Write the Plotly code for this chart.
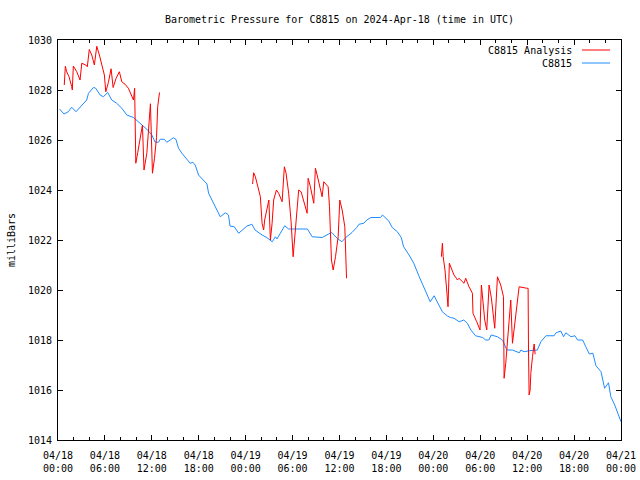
import pandas as pd
import plotly.graph_objects as go

# ---- data (hours since 2024-04-18 00:00 UTC, pressure in mbar) ----
obs_hours = [0.2, 0.77, 1.32, 1.75, 2.3, 3.03, 3.67, 3.9, 4.53, 4.83, 5.38, 5.8, 6.36, 6.87, 7.5, 8.16,
             8.8, 9.65, 10.3, 10.7, 11.36, 12.0, 12.43, 12.85, 13.07, 13.58, 13.92, 14.35, 14.77, 15.08,
             15.41, 15.85, 16.48, 16.9, 17.25, 17.55, 17.97, 18.6, 19.05, 19.26, 19.8, 20.33, 20.75, 21.4,
             21.8, 22.0, 22.55, 23.1, 23.5, 24.17, 24.8, 25.2, 26.1, 26.7, 27.4, 27.8, 28.0, 28.4, 29.0,
             29.5, 31.9, 32.5, 33.8, 34.6, 35.0, 35.7, 36.3, 36.8, 37.6, 38.2, 38.5, 39.1, 39.5, 40.0,
             41.25, 41.5, 41.9, 42.3, 42.75, 43.4, 43.9, 44.2, 44.9, 45.5, 46.2, 46.8, 47.2, 47.6, 48.1,
             48.5, 49.15, 49.8, 50.2, 50.65, 51.3, 51.9, 52.35, 52.8, 53.4, 54.3, 54.7, 55.1, 55.4, 56.2,
             56.85, 57.4, 58.1, 59.0, 59.2, 59.6, 60.25, 61.3, 61.75, 62.4, 63.45, 63.7, 64.3, 64.65,
             64.95, 65.6, 66.1, 66.45, 67.1, 67.5, 67.95, 68.4, 68.8, 69.45, 69.9, 70.4, 70.7, 71.2,
             71.5, 72.0]
obs_pressure = [1027.24, 1027.04, 1027.13, 1027.31, 1027.13, 1027.4, 1027.6, 1027.87, 1028.1, 1028.07,
                1027.8, 1027.73, 1027.9, 1027.6, 1027.47, 1027.27, 1027.0, 1026.9, 1026.73, 1026.6,
                1026.43, 1026.2, 1025.91, 1025.91, 1026.03, 1026.03, 1025.91, 1026.0, 1026.09, 1026.03,
                1025.67, 1025.47, 1025.2, 1025.07, 1025.11, 1025.0, 1024.6, 1024.4, 1024.24, 1023.87,
                1023.53, 1023.2, 1022.93, 1023.09, 1023.0, 1022.56, 1022.53, 1022.27, 1022.37, 1022.56,
                1022.63, 1022.4, 1022.2, 1022.1, 1021.93, 1022.13, 1022.04, 1022.27, 1022.57, 1022.44,
                1022.44, 1022.13, 1022.1, 1022.24, 1022.3, 1022.07, 1021.93, 1022.1, 1022.3, 1022.5,
                1022.63, 1022.67, 1022.8, 1022.9, 1022.9, 1023.0, 1022.87, 1022.76, 1022.5, 1022.33,
                1022.1, 1021.73, 1021.4, 1021.07, 1020.53, 1020.07, 1019.8, 1019.53, 1019.77, 1019.53,
                1019.13, 1018.96, 1018.9, 1018.87, 1018.73, 1018.8, 1018.67, 1018.4, 1018.17, 1018.1,
                1018.0, 1018.0, 1018.2, 1018.13, 1018.0, 1017.6, 1017.6, 1017.49, 1017.6, 1017.53,
                1017.57, 1017.6, 1017.93, 1018.17, 1018.17, 1018.29, 1018.36, 1018.13, 1018.29, 1018.13,
                1018.17, 1018.0, 1018.0, 1017.73, 1017.44, 1017.47, 1016.97, 1016.73, 1016.07, 1016.29,
                1015.73, 1015.4, 1015.13, 1014.73]

ana1_hours = [0.8, 0.94, 1.11, 1.41, 1.76, 1.83, 1.96, 2.4, 2.82, 3.04, 3.55, 3.75, 4.0, 4.32, 4.65, 4.96,
              5.29, 5.6, 5.93, 6.11, 6.44, 6.79, 7.05, 7.43, 7.85, 8.16, 8.58, 9.0, 9.65, 9.8, 9.95, 10.2,
              10.5, 10.8, 11.0, 11.36, 11.66, 11.82, 12.08, 12.34, 12.6, 12.75, 12.98]
ana1_pressure = [1028.2, 1028.95, 1028.73, 1028.53, 1028.13, 1028.0, 1028.96, 1028.73, 1028.4, 1029.07,
                 1029.0, 1028.93, 1029.62, 1029.4, 1029.0, 1029.75, 1029.4, 1029.0, 1028.6, 1027.93,
                 1028.3, 1028.85, 1028.1, 1028.47, 1028.73, 1028.33, 1028.23, 1028.07, 1027.6, 1028.07,
                 1025.07, 1025.5, 1026.07, 1026.6, 1024.8, 1025.47, 1026.75, 1027.45, 1024.67, 1025.27,
                 1026.1, 1027.33, 1027.9]
ana2_hours = [24.89, 25.02, 25.24, 25.58, 25.88, 26.1, 26.3, 26.43, 26.81, 26.97, 27.16, 27.38, 27.58,
              27.93, 28.22, 28.66, 28.95, 29.17, 29.5, 29.81, 30.07, 30.36, 30.78, 31.09, 31.42, 31.86,
              31.99, 32.28, 32.71, 32.92, 33.14, 33.56, 33.78, 33.99, 34.55, 34.72, 34.97, 35.19, 35.49,
              35.83, 36.04, 36.34, 36.68, 36.9]
ana2_pressure = [1024.24, 1024.69, 1024.53, 1024.13, 1023.73, 1022.67, 1022.4, 1022.8, 1023.47, 1023.6,
                 1022.0, 1022.67, 1023.6, 1024.0, 1023.87, 1023.53, 1024.93, 1024.67, 1023.87, 1022.73,
                 1021.33, 1022.53, 1024.0, 1023.93, 1023.6, 1023.07, 1024.47, 1024.13, 1023.47, 1024.87,
                 1024.6, 1024.0, 1023.73, 1024.33, 1024.13, 1023.33, 1021.2, 1020.8, 1021.33, 1022.13,
                 1023.6, 1023.2, 1022.53, 1020.47]
ana3_hours = [49.03, 49.16, 49.26, 49.49, 49.71, 49.88, 50.05, 50.31, 50.64, 50.95, 51.08, 51.28, 51.92,
              52.14, 52.56, 53.0, 53.07, 53.55, 53.97, 54.15, 54.41, 54.57, 54.83, 55.13, 55.43, 55.69,
              55.85, 56.2, 56.62, 56.97, 57.05, 57.26, 57.69, 57.9, 58.12, 58.33, 58.76, 58.97, 59.95,
              60.12, 60.17, 60.25, 60.38, 60.47, 60.68, 60.81, 60.89, 61.02]
ana3_pressure = [1021.33, 1021.87, 1021.33, 1020.8, 1020.0, 1019.33, 1021.07, 1020.87, 1020.6, 1020.47,
                 1020.4, 1020.47, 1020.27, 1020.47, 1020.13, 1019.87, 1019.07, 1018.73, 1018.4, 1020.2,
                 1019.2, 1018.8, 1018.4, 1020.2, 1019.67, 1018.8, 1018.47, 1020.53, 1020.2, 1019.73,
                 1016.47, 1017.07, 1018.67, 1019.6, 1017.87, 1018.4, 1019.6, 1020.13, 1020.07, 1020.07,
                 1017.6, 1015.8, 1016.0, 1016.67, 1017.33, 1017.8, 1017.84, 1017.43]

y_ticks = [1014, 1016, 1018, 1020, 1022, 1024, 1026, 1028, 1030]
start_time = "2024-04-18 00:00"
end_time = "2024-04-21 00:00"

# ---- build ----
base = pd.Timestamp(start_time)


def to_time(hours):
    return [base + pd.Timedelta(hours=h) for h in hours]


ana_x = to_time(ana1_hours) + [None] + to_time(ana2_hours) + [None] + to_time(ana3_hours)
ana_y = ana1_pressure + [None] + ana2_pressure + [None] + ana3_pressure

tick_times = pd.date_range(start_time, end_time, freq="6h")
tick_text = [t.strftime("%m/%d<br>%H:%M") for t in tick_times]

RED = "#ff0000"
BLUE = "#1e8cff"
FONT = "DejaVu Sans Mono"

fig = go.Figure()
fig.add_trace(go.Scatter(x=to_time(obs_hours), y=obs_pressure, mode="lines", name="C8815",
                         line=dict(color=BLUE, width=1), showlegend=False))
fig.add_trace(go.Scatter(x=ana_x, y=ana_y, mode="lines", name="C8815 Analysis",
                         line=dict(color=RED, width=1), connectgaps=False, showlegend=False))

axis_common = dict(showline=True, linecolor="black", linewidth=1, mirror="ticks",
                   ticks="inside", ticklen=5, tickcolor="black", showgrid=False, zeroline=False,
                   automargin=False,
                   tickfont=dict(family=FONT, size=10, color="black"))

fig.update_xaxes(range=[base, pd.Timestamp(end_time)], tickvals=tick_times, ticktext=tick_text,
                 ticklabelstandoff=6,
                 minor=dict(dtick=2 * 3600 * 1000, ticks="inside", ticklen=3, tickcolor="black",
                            showgrid=False),
                 **axis_common)
fig.update_yaxes(range=[1014, 1030], tickvals=y_ticks, ticklabelstandoff=3,
                 title=dict(text="milliBars", font=dict(family=FONT, size=10, color="black"), standoff=10),
                 **axis_common)

# gnuplot-style legend (key) in the top right: text then line sample
legend_rows = [("C8815 Analysis", RED, 0.975), ("C8815", BLUE, 0.9425)]
for label, color, yy in legend_rows:
    fig.add_annotation(xref="paper", yref="paper", x=0.9165, y=yy, text=label, showarrow=False,
                       xanchor="right", yanchor="middle",
                       font=dict(family=FONT, size=10, color="black"))
    fig.add_shape(type="line", xref="paper", yref="paper", x0=0.9307, x1=0.9805, y0=yy, y1=yy,
                  line=dict(color=color, width=1))

fig.update_layout(
    width=640, height=480,
    margin=dict(l=58, r=19, t=40, b=40),
    paper_bgcolor="white", plot_bgcolor="white",
    title=dict(text="Barometric Pressure for C8815 on 2024-Apr-18 (time in UTC)",
               x=0.5, xref="paper", y=1 - 19 / 480, yref="container", yanchor="middle",
               font=dict(family=FONT, size=10, color="black")),
    font=dict(family=FONT, size=10, color="black"),
)

fig.write_html("out.html", config={"displayModeBar": False},
               post_script="document.body.style.margin='0';")
